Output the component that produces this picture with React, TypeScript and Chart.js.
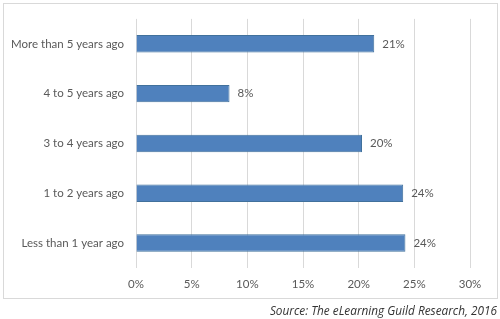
import React, { useEffect, useRef } from "react";
import { Chart, registerables } from "chart.js";

Chart.register(...registerables);

const categories = [
  "More than 5 years ago",
  "4 to 5 years ago",
  "3 to 4 years ago",
  "1 to 2 years ago",
  "Less than 1 year ago",
];
const values = [21.4, 8.4, 20.3, 24.0, 24.2];
const valueLabels = ["21%", "8%", "20%", "24%", "24%"];
const xTicks = [0, 5, 10, 15, 20, 25, 30];
const sourceText = "Source: The eLearning Guild Research, 2016";

const FONT = "Lato, 'Open Sans', sans-serif";
const TEXT = "#595959";

const framePlugin = {
  id: "frame",
  beforeDraw(chart: any) {
    const ctx = chart.ctx;
    ctx.save();
    ctx.fillStyle = "#ffffff";
    ctx.fillRect(0, 0, chart.width, chart.height);
    ctx.strokeStyle = "#d9d9d9";
    ctx.lineWidth = 1;
    ctx.strokeRect(3.5, 3.5, 494, 295);
    ctx.restore();
  },
};

const labelPlugin = {
  id: "barLabels",
  afterDatasetsDraw(chart: any) {
    const ctx = chart.ctx;
    const meta = chart.getDatasetMeta(0);
    ctx.save();
    ctx.font = `11.5px ${FONT}`;
    ctx.fillStyle = TEXT;
    ctx.textAlign = "left";
    ctx.textBaseline = "middle";
    meta.data.forEach((bar: any, i: number) => {
      ctx.fillText(valueLabels[i], bar.x + 8, bar.y);
    });
    ctx.restore();
  },
};

export default function App() {
  const ref = useRef<HTMLCanvasElement>(null);
  useEffect(() => {
    if (!ref.current) return;
    const chart = new Chart(ref.current, {
      type: "bar",
      data: {
        labels: categories,
        datasets: [
          {
            data: values,
            backgroundColor: "#4f81bd",
            borderColor: "#41719c",
            borderWidth: 1,
            barPercentage: 0.35,
            categoryPercentage: 1,
          },
        ],
      },
      options: {
        indexAxis: "y",
        animation: false,
        responsive: false,
        devicePixelRatio: 1,
        layout: { padding: { left: 0, top: 18, right: 30, bottom: 20 } },
        plugins: {
          legend: { display: false },
          tooltip: { enabled: false },
          title: { display: false },
        },
        scales: {
          x: {
            min: 0,
            max: 30,
            afterBuildTicks(scale: any) {
              scale.ticks = xTicks.map((v) => ({ value: v }));
            },
            afterFit(scale: any) {
              scale.height = 31;
            },
            grid: { color: "#d9d9d9", drawTicks: false },
            border: { display: false },
            ticks: {
              padding: 9,
              color: TEXT,
              font: { family: FONT, size: 11.5 },
              callback: (v: any) => `${v}%`,
            },
          },
          y: {
            afterFit(scale: any) {
              scale.width = 136;
            },
            grid: { display: false, drawTicks: false },
            border: { display: false },
            ticks: {
              padding: 12,
              color: TEXT,
              font: { family: FONT, size: 11.5 },
            },
          },
        },
      },
      plugins: [framePlugin, labelPlugin],
    });
    return () => chart.destroy();
  }, []);

  return (
    <div style={{ position: "absolute", left: 0, top: 0, width: 500, height: 319, background: "#fff" }}>
      <canvas ref={ref} width={500} height={319} style={{ width: 500, height: 319, display: "block" }} />
      <div
        style={{
          position: "absolute",
          right: 3,
          top: 302,
          fontFamily: "'Open Sans', sans-serif",
          fontStyle: "italic",
          fontSize: 11.8,
          color: "#333333",
          whiteSpace: "nowrap",
          lineHeight: "16px",
        }}
      >
        {sourceText}
      </div>
    </div>
  );
}
